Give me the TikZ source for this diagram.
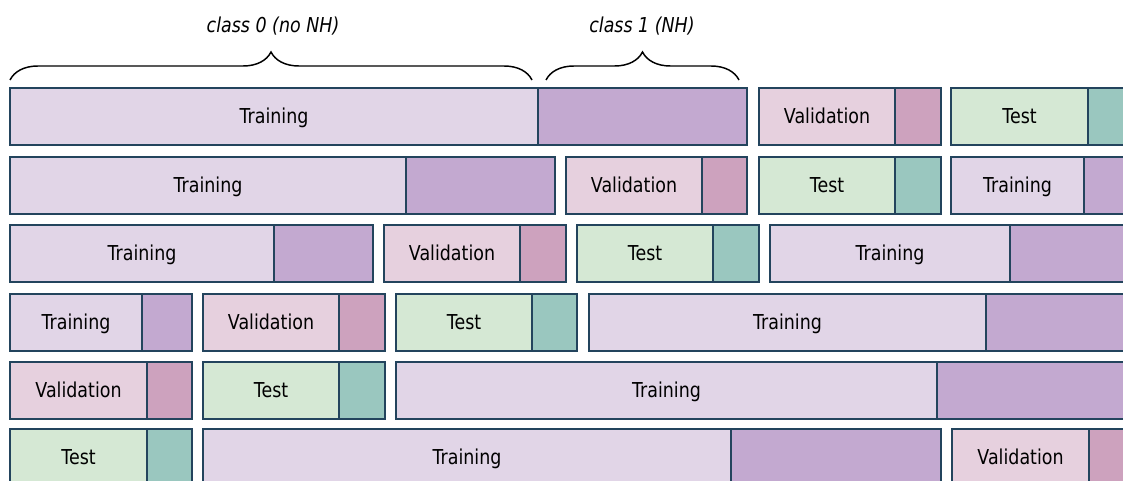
\documentclass[tikz,border=0pt]{standalone}
\usepackage{fontspec}
\setmainfont[FakeStretch=0.85]{DejaVu Sans}
\usetikzlibrary{decorations.pathreplacing}
\definecolor{edgecol}{HTML}{23445D}
\definecolor{trlight}{HTML}{E1D5E7}
\definecolor{trdark}{HTML}{C3A9D0}
\definecolor{valight}{HTML}{E6D0DE}
\definecolor{vadark}{HTML}{CDA2BE}
\definecolor{telight}{HTML}{D5E8D4}
\definecolor{tedark}{HTML}{9AC7BF}
\tikzset{
  edge/.style={draw=edgecol, line width=1.5pt},
  lbl/.style={font=\fontsize{15.4}{17}\selectfont, text=black, inner sep=0pt,
    text height=11.25pt, text depth=0.75pt},
  cls/.style={font=\fontsize{15.4}{17}\selectfont\itshape, text=black, inner sep=0pt,
    text height=11.25pt, text depth=0.75pt},
  bracestyle/.style={draw=black, line width=1.1pt, decorate, decoration={brace, amplitude=21pt}},
}
% #1 name, #2 x1, #3 split, #4 x2, #5 top, #6 label, #7 kind
\newcommand\seg[7]{%
  \fill[#7light] (#2,#5) rectangle (#3,#5+57);
  \fill[#7dark] (#3,#5) rectangle (#4,#5+57);
  \draw[edge] (#2,#5) rectangle (#4,#5+57);
  \draw[edge] (#3,#5) -- (#3,#5+57);
  \node[lbl] (#1) at ({(#2+#3)/2},#5+28.5) {#6};
}
\begin{document}
\begin{tikzpicture}[x=0.75pt,y=-0.75pt]
\useasboundingbox (0,0) rectangle (1123,481);
\clip (0,0) rectangle (1123,481);
% braces
\coordinate (b0a) at (10,80);
\coordinate (b0b) at (532,80);
\coordinate (b1a) at (546,80);
\coordinate (b1b) at (739,80);
\draw[bracestyle] (b0a) -- (b0b);
\draw[bracestyle] (b1a) -- (b1b);
\node[cls] (c0) at (273,26) {class 0 (no NH)};
\node[cls] (c1) at (642,26) {class 1 (NH)};
% row 1
\seg{r1a}{10}{538}{747}{88}{Training}{tr}
\seg{r1b}{759}{895}{941}{88}{Validation}{va}
\seg{r1c}{951}{1088}{1135}{88}{Test}{te}
% row 2
\seg{r2a}{10}{406}{555}{157}{Training}{tr}
\seg{r2b}{566}{702}{747}{157}{Validation}{va}
\seg{r2c}{759}{895}{941}{157}{Test}{te}
\seg{r2d}{951}{1084}{1200}{157}{Training}{tr}
% row 3
\seg{r3a}{10}{274}{373}{225}{Training}{tr}
\seg{r3b}{384}{520}{566}{225}{Validation}{va}
\seg{r3c}{577}{713}{759}{225}{Test}{te}
\seg{r3d}{770}{1010}{1200}{225}{Training}{tr}
% row 4
\seg{r4a}{10}{142}{192}{294}{Training}{tr}
\seg{r4b}{203}{339}{385}{294}{Validation}{va}
\seg{r4c}{396}{532}{577}{294}{Test}{te}
\seg{r4d}{589}{986}{1200}{294}{Training}{tr}
% row 5
\seg{r5a}{10}{147}{192}{362}{Validation}{va}
\seg{r5b}{203}{339}{385}{362}{Test}{te}
\seg{r5c}{396}{937}{1200}{362}{Training}{tr}
% row 6
\seg{r6a}{10}{147}{192}{429}{Test}{te}
\seg{r6b}{203}{731}{941}{429}{Training}{tr}
\seg{r6c}{952}{1089}{1135}{429}{Validation}{va}
\end{tikzpicture}
\end{document}
